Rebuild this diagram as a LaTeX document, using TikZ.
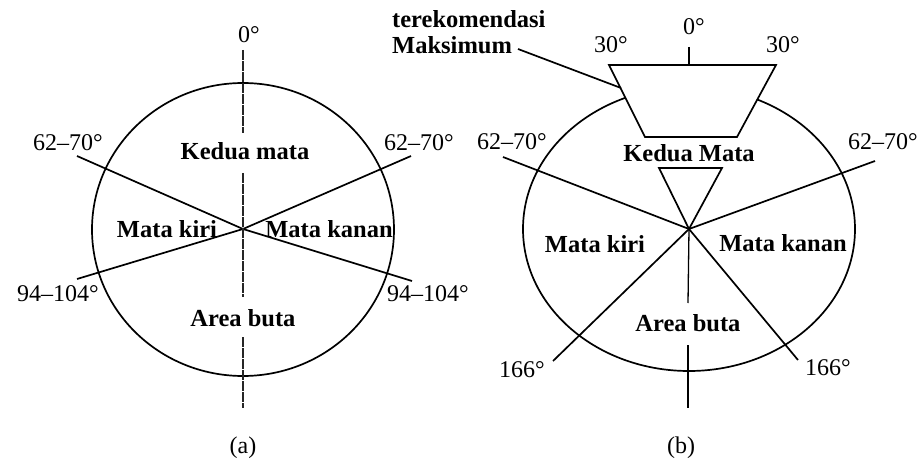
\documentclass[tikz,border=0pt]{standalone}
\usepackage{fontspec}
\setmainfont{Liberation Serif}
\usetikzlibrary{shapes.geometric}
\begin{document}
\begin{tikzpicture}[x=1pt,y=-1pt,
  ln/.style={line width=1.7pt},
  vdash/.style={line width=1.3pt, black!85, dash pattern=on 10pt off 1pt},
  word/.style={font=\fontsize{24.5}{24.5}\selectfont\bfseries, inner sep=0pt},
  num/.style={font=\fontsize{24}{24}\selectfont, inner sep=0pt},
  oval/.style={draw, ellipse, line width=1.7pt, inner sep=0pt}]
\useasboundingbox (0,0) rectangle (923,465);
% ---------- (a) ----------
\coordinate (ca) at (243,229);
\node[oval, minimum width=302pt, minimum height=293pt] (ovalA) at (243,229.5) {};
\coordinate (aUL) at (77,156);
\coordinate (aUR) at (411,156);
\coordinate (aLL) at (77,279);
\coordinate (aLR) at (412,281);
\draw[ln] (aUL) -- (ca) -- (aLR);
\draw[ln] (aUR) -- (ca) -- (aLL);
\coordinate (av1) at (243,50);  \coordinate (av2) at (243,133);
\coordinate (av3) at (243,173); \coordinate (av4) at (243,297);
\coordinate (av5) at (243,337); \coordinate (av6) at (243,408);
\draw[vdash] (av1) -- (av2);
\draw[vdash] (av3) -- (av4);
\draw[vdash] (av5) -- (av6);
\node[num] (a0) at (249,35) {0°};
\node[num] (a62l) at (68,143) {62–70°};
\node[num] (a62r) at (419,143) {62–70°};
\node[num] (a94l) at (58,294) {94–104°};
\node[num] (a94r) at (428,294) {94–104°};
\node[word] (akedua) at (245,151) {Kedua mata};
\node[word] (akiri) at (167,229) {Mata kiri};
\node[word] (akanan) at (329,229) {Mata kanan};
\node[word] (aarea) at (243,318) {Area buta};
\node[num] (acap) at (243,448) {(a)};
% ---------- (b) ----------
\coordinate (cb) at (689,229);
\node[oval, minimum width=332pt, minimum height=284pt] (ovalB) at (689,229) {};
\coordinate (bUL) at (503,157);
\coordinate (bUR) at (875,161);
\coordinate (bLL) at (553,361);
\coordinate (bLR) at (798,360);
\draw[ln] (bUL) -- (cb) -- (bLR);
\draw[ln] (bUR) -- (cb) -- (bLL);
\coordinate (bv2) at (688,303);
\coordinate (bv3) at (688,345); \coordinate (bv4) at (688,408);
\draw[line width=1.3pt] (cb) -- (bv2);
\draw[line width=1.3pt] (bv3) -- (bv4);
\coordinate (tTL) at (609,65);
\coordinate (tTR) at (776,65);
\coordinate (tBR) at (737,137);
\coordinate (tBL) at (645,137);
\draw[ln, fill=white] (tTL) -- (tTR) -- (tBR) -- (tBL) -- cycle;
\coordinate (tick1) at (689,47); \coordinate (tick2) at (689,65);
\draw[line width=1.3pt] (tick1) -- (tick2);
\coordinate (sTL) at (659,168);
\coordinate (sTR) at (722,168);
\draw[ln] (sTL) -- (sTR) -- (cb) -- cycle;
\node[word, anchor=west] (bterek) at (392,19) {terekomendasi};
\node[word, anchor=west] (bmaks) at (392,45) {Maksimum};
\coordinate (lead1) at (518,49);
\coordinate (lead2) at (621,88);
\draw[ln] (lead1) -- (lead2);
\node[num] (b0) at (694,27) {0°};
\node[num] (b30l) at (611,45) {30°};
\node[num] (b30r) at (783,45) {30°};
\node[num] (b62l) at (512,142) {62–70°};
\node[num] (b62r) at (883,142) {62–70°};
\node[word] (bkedua) at (689,153) {Kedua Mata};
\node[word] (bkiri) at (595,244) {Mata kiri};
\node[word] (bkanan) at (783,243) {Mata kanan};
\node[word] (barea) at (688,323) {Area buta};
\node[num] (b166l) at (522,370) {166°};
\node[num] (b166r) at (828,368) {166°};
\node[num] (bcap) at (681,448) {(b)};
\end{tikzpicture}
\end{document}
